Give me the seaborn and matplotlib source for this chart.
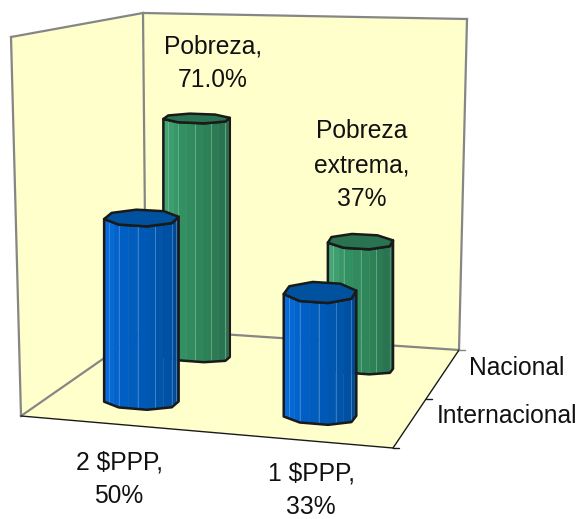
#!/usr/bin/env python3
# -*- coding: utf-8 -*-
"""Excel style 3D cylinder chart of poverty rates, drawn on a flat axes."""

import numpy as np
import matplotlib
matplotlib.use("Agg")
import matplotlib.pyplot as plt
import seaborn as sns

# data
series_names = ["Internacional", "Nacional"]
international_labels = ["2 $PPP", "1 $PPP"]
international_values = [50, 33]
national_labels = ["Pobreza", "Pobreza\nextrema"]
national_values = [71.0, 37]
national_text = ["71.0%", "37%"]
international_text = ["50%", "33%"]
axis_max = 100

# box corners in pixels: front-left, front-right, back-right, back-left
FLOOR = np.array([[21, 416], [393, 448], [459, 350], [146, 329]], float)
TOP = np.array([[11, 37], [405, 53], [467, 19], [143, 13]], float)

WALL = "#FFFFCC"
EDGE = "#868686"
RADIUS_U = 0.102
N_RIM = 8
STRIPS = 3


def project(u, d, v):
    """Map width, depth, height fractions of the box to picture pixels."""
    def quad(c):
        front = c[0] + (c[1] - c[0]) * u
        back = c[3] + (c[2] - c[3]) * u
        return front + (back - front) * d
    low, high = quad(FLOOR), quad(TOP)
    return low + (high - low) * v


def cylinder(ax, u, d, value, rd_bottom, rd_top, colors, top_color, streak, z):
    v = value / axis_max
    t = np.linspace(0, 2 * np.pi, N_RIM, endpoint=False) + np.pi / N_RIM
    uu = u + RADIUS_U * np.cos(t)
    bottom = np.array([project(a, d + rd_bottom * s, 0) for a, s in zip(uu, np.sin(t))])
    top = np.array([project(a, d + rd_top * s, v) for a, s in zip(uu, np.sin(t))])
    # sides stay upright: the top rim takes its x from the floor rim
    top[:, 0] = bottom[:, 0]

    # visible side runs from the leftmost rim point round the front to the rightmost
    start, stop = np.argmin(bottom[:, 0]), np.argmax(bottom[:, 0])
    idx = [start]
    while idx[-1] != stop:
        idx.append((idx[-1] + 1) % N_RIM)

    n_strips = (len(idx) - 1) * STRIPS
    pal = sns.blend_palette(colors, n_strips)
    k = 0
    for i, j in zip(idx[:-1], idx[1:]):
        for s in range(STRIPS):
            f0, f1 = s / STRIPS, (s + 1) / STRIPS
            b0, b1 = bottom[i] + (bottom[j] - bottom[i]) * f0, bottom[i] + (bottom[j] - bottom[i]) * f1
            t0, t1 = top[i] + (top[j] - top[i]) * f0, top[i] + (top[j] - top[i]) * f1
            ax.fill([b0[0], b1[0], t1[0], t0[0]], [b0[1], b1[1], t1[1], t0[1]],
                    color=pal[k], lw=0.3, zorder=z)
            if k > 0 and k % 2 == 1:
                ax.plot([b0[0], t0[0]], [b0[1], t0[1]], color=streak, lw=0.7,
                        alpha=0.5, zorder=z)
            k += 1

    outline = np.vstack([bottom[idx], top[idx[::-1]]])
    ax.fill(outline[:, 0], outline[:, 1], fc="none", ec="k", lw=1.8, zorder=z + 0.1,
            joinstyle="round")
    ax.fill(top[:, 0], top[:, 1], fc=top_color, ec="k", lw=1.8, zorder=z + 0.2,
            joinstyle="round")


def main():
    sns.set_theme(style="white")
    plt.rcParams["font.family"] = ["Liberation Sans", "DejaVu Sans"]

    fig = plt.figure(figsize=(5.79, 5.19), dpi=100)
    ax = fig.add_axes([0, 0, 1, 1])
    ax.set_xlim(0, 579)
    ax.set_ylim(519, 0)
    ax.axis("off")

    fl, fr, br, bl = FLOOR
    tfl, _, tbr, tbl = TOP
    for wall in ([fl, bl, tbl, tfl], [bl, br, tbr, tbl], [fl, fr, br, bl]):
        wall = np.array(wall)
        ax.fill(wall[:, 0], wall[:, 1], color=WALL, lw=0, zorder=1)
    for a, b in ((fl, tfl), (tfl, tbl), (tbl, tbr), (tbr, br), (br, bl), (bl, fl), (bl, tbl)):
        ax.plot([a[0], b[0]], [a[1], b[1]], color=EDGE, lw=1.6, zorder=2,
                solid_capstyle="projecting")
    # floor front and side edges with their ticks
    for a, b in ((fl, fr), (fr, br)):
        ax.plot([a[0], b[0]], [a[1], b[1]], color="k", lw=1, zorder=2)
    for d in (0, 0.5, 1):
        p = project(1, d, 0)
        ax.plot([p[0], p[0] + 6], [p[1], p[1]], color="k" if d < 1 else EDGE, lw=1, zorder=2)

    # back row first, front row over it
    green = ["#45A574", "#339163", "#2E8459", "#2A7350", "#27694A"]
    blue = ["#0A6CDC", "#0060C6", "#0058B2", "#0050A2", "#00448A"]
    z = 3
    for j, val in enumerate(national_values):
        cylinder(ax, (j + 0.5) / 2, 0.75, val, 0.055, 0.105, green, "#2A7350", "#8CCBA6", z)
        z += 1
    for j, val in enumerate(international_values):
        cylinder(ax, (j + 0.5) / 2, 0.25, val, 0.085, 0.14, blue, "#00529E", "#6FA8E8", z)
        z += 1

    kw = dict(ha="center", va="center", fontsize=17.7, color="#111111",
              linespacing=1.5, zorder=z)
    ax.text(213, 63, "{},\n{}".format(national_labels[0], national_text[0]), **kw)
    ax.text(362, 165, "{},\n{}".format(national_labels[1], national_text[1]), **kw)
    ax.text(119, 479, "{},\n{}".format(international_labels[0], international_text[0]), **kw)
    ax.text(311, 490, "{},\n{}".format(international_labels[1], international_text[1]), **kw)
    ax.text(517, 368, series_names[1], **kw)
    ax.text(507, 416, series_names[0], **kw)

    fig.savefig("out.png", dpi=100, facecolor="white")
    plt.close(fig)


if __name__ == "__main__":
    main()
